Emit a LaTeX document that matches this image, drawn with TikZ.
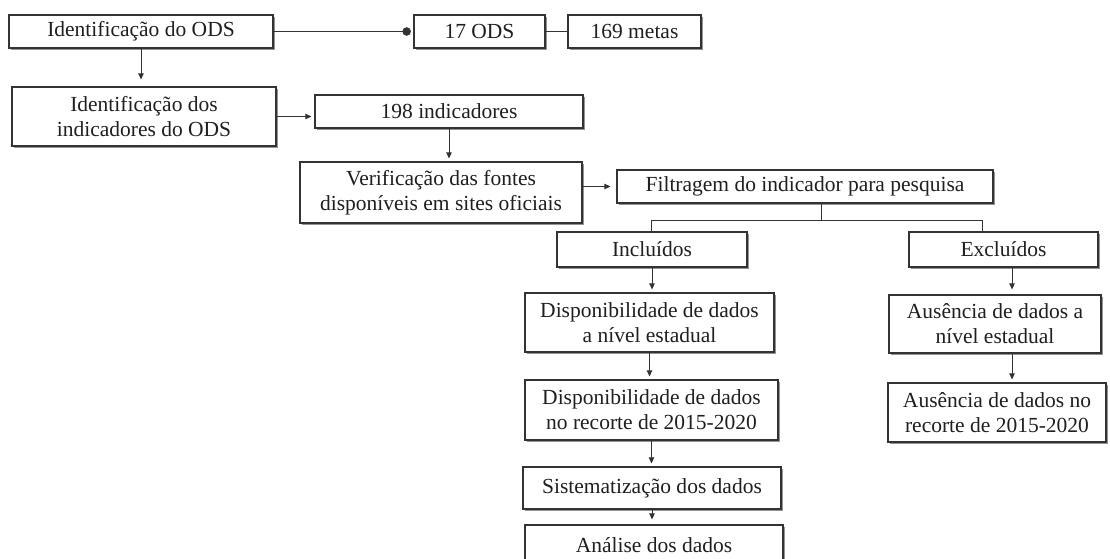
\documentclass[tikz,border=0pt]{standalone}
\usepackage{fontspec}
\setmainfont{Liberation Serif}
\usetikzlibrary{arrows.meta,shadows}
\begin{document}
\begin{tikzpicture}[x=1pt,y=-1pt,
  box/.style={draw=black!80, line width=1.2pt, fill=white, inner sep=0pt, align=center,
    text=black!88, font=\fontsize{21.5}{25}\selectfont,
    drop shadow={shadow xshift=2.4pt, shadow yshift=-2.4pt, fill=black!50, opacity=0.85}},
  conn/.style={draw=black!80, line width=0.8pt},
  arr/.style={conn, -{Triangle[length=6pt,width=5.5pt]}, shorten >=3pt}
]
\useasboundingbox (0,0) rectangle (1110,558);
\clip (0,0) rectangle (1110,558);
% boxes
\node[box, minimum width=264pt, minimum height=33pt] (b1) at (141,31.5) {Identificação do ODS};
\node[box, minimum width=131pt, minimum height=33pt] (b17) at (479.5,31.5) {17 ODS};
\node[box, minimum width=133pt, minimum height=33pt] (b169) at (634.5,31.5) {169 metas};
\node[box, minimum width=264pt, minimum height=59pt] (b2) at (144,116.5) {Identificação dos\\indicadores do ODS};
\node[box, minimum width=268pt, minimum height=33pt] (b3) at (449,111.5) {198 indicadores};
\node[box, minimum width=282pt, minimum height=61pt] (b4) at (441,192.5) {Verificação das fontes\\disponíveis em sites oficiais};
\node[box, minimum width=376pt, minimum height=33pt] (b5) at (805,186.5) {Filtragem do indicador para pesquisa};
\node[box, minimum width=190pt, minimum height=35pt] (inc) at (652,249.5) {Incluídos};
\node[box, minimum width=189pt, minimum height=35pt] (exc) at (1003.5,249.5) {Excluídos};
\node[box, minimum width=249pt, minimum height=59pt] (d1) at (649.5,322.5) {Disponibilidade de dados\\a nível estadual};
\node[box, minimum width=253pt, minimum height=60pt] (d2) at (651.5,410) {Disponibilidade de dados\\no recorte de 2015-2020};
\node[box, minimum width=258pt, minimum height=42pt] (sis) at (652,488) {Sistematização dos dados};
\node[box, minimum width=258pt, minimum height=40pt] (ana) at (654,545) {Análise dos dados};
\node[box, minimum width=212pt, minimum height=58pt] (aus1) at (995,324) {Ausência de dados a\\nível estadual};
\node[box, minimum width=218pt, minimum height=59pt] (aus2) at (997,412.5) {Ausência de dados no\\recorte de 2015-2020};
% helper coordinates
\coordinate (bx) at (821,0);
\coordinate (by) at (0,220);
\coordinate (ax) at (1012,0);
\coordinate (ix) at (651,0);
\coordinate (ex) at (982,0);
% connectors
\draw[conn, -{Circle[length=8.5pt]}, shorten >=2.5pt] (b1.east) -- (b17.west);
\draw[conn] (b17.east) -- (b169.west);
\draw[arr, shorten >=7pt] (b1.south) -- (b1.south |- b2.north);
\draw[arr] (b2.east) -- (b2.east -| b3.west);
\draw[arr] (b3.south) -- (b3.south |- b4.north);
\draw[arr, shorten >=6pt] (b5.west -| b4.east) -- (b5.west);
\draw[conn] (b5.south -| bx) -- (bx |- by);
\draw[conn] (ix |- inc.north) -- (ix |- by) -- (ex |- by) -- (ex |- exc.north);
\draw[arr] (inc.south) -- (inc.south |- d1.north);
\draw[arr] (d1.south) -- (d1.south |- d2.north);
\draw[arr] (d2.south) -- (d2.south |- sis.north);
\draw[arr, shorten >=5pt] (sis.south) -- (sis.south |- ana.north);
\draw[arr, shorten >=5pt] (exc.south -| ax) -- (aus1.north -| ax);
\draw[arr] (aus1.south -| ax) -- (aus2.north -| ax);
\end{tikzpicture}
\end{document}
